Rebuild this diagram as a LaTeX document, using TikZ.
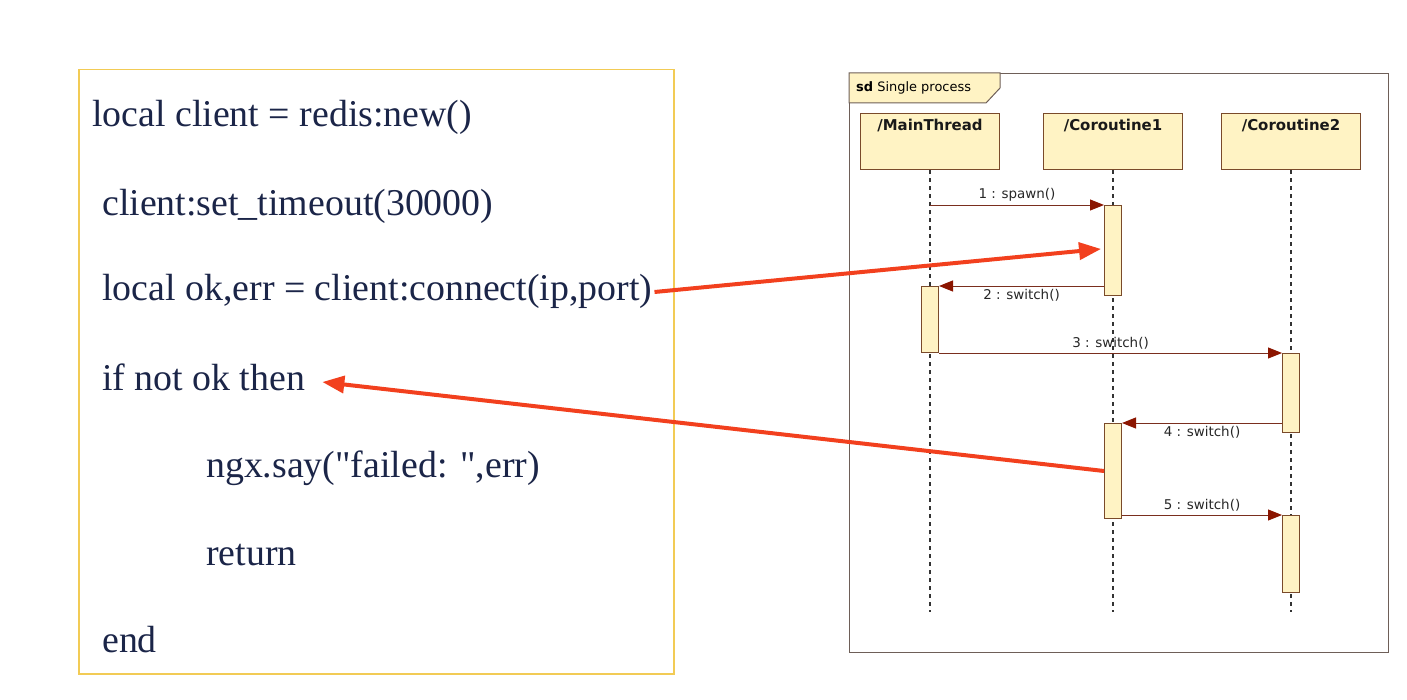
\documentclass[tikz,border=0pt]{standalone}
\usepackage{fontspec}
\setmainfont{Liberation Serif}[Ligatures=TeXOff]
\newfontfamily\umlfont{DejaVu Sans}
\usepackage{tikz}
\usetikzlibrary{arrows.meta, positioning, calc}
\definecolor{CodeInk}{HTML}{1B2548}
\definecolor{CodeFrame}{HTML}{F2CB55}
\definecolor{FrameLine}{HTML}{6E5F58}
\definecolor{UmlFill}{HTML}{FFF3C4}
\definecolor{UmlLine}{HTML}{7A4A2A}
\definecolor{MsgLine}{HTML}{7A2E1E}
\definecolor{MsgTip}{HTML}{8B1500}
\definecolor{HintRed}{HTML}{F2401E}

\begin{document}
\begin{tikzpicture}[
  x=1bp, y=-1bp,
  code/.style={anchor=base west, inner sep=0pt, text=CodeInk, font=\fontsize{38}{40}\selectfont},
  head/.style={draw=UmlLine, fill=UmlFill, line width=1bp, minimum width=139bp, minimum height=56bp, anchor=north},
  headtext/.style={anchor=north, inner sep=6bp, text=black!90, font=\umlfont\bfseries\fontsize{15}{17}\selectfont},
  act/.style={draw=UmlLine, fill=UmlFill, line width=1bp, minimum width=17bp, inner sep=0pt, anchor=north},
  lifeline/.style={line width=1.3bp, dash pattern=on 4bp off 4bp, black!80},
  msg/.style={line width=1bp, MsgLine, -{Triangle[length=14bp, width=11bp, fill=MsgTip, color=MsgTip]}},
  msglabel/.style={font=\umlfont\fontsize{13.5}{15}\selectfont, text=black!85, inner sep=3bp},
  hint/.style={line width=4bp, HintRed, -{Triangle[length=22bp, width=17bp]}}
]
\useasboundingbox (0,0) rectangle (1407,700);

% --- Lua code panel ---
\node[draw=CodeFrame, line width=1.5bp, minimum width=595bp, minimum height=604bp, anchor=north west, inner sep=0pt] (codebox) at (78,69) {};
\node[code] (code1) at (92,127) {local client = redis:new()};
\node[code] (code2) at (102,215) {client:set\_timeout(30000)};
\node[code] (code3) at (102,300) {local ok,err = client:connect(ip,port)};
\node[code] (code4) at (102,390) {if not ok then};
\node[code] (code5) at (206,477) {ngx.say("failed: ",err)};
\node[code] (code6) at (206,565) {return};
\node[code] (code7) at (102,652) {end};

% --- Sequence diagram frame ---
\node[draw=FrameLine, line width=1.3bp, minimum width=539bp, minimum height=579bp, anchor=north west, inner sep=0pt] (frame) at (849,73) {};
\draw[draw=FrameLine, fill=UmlFill, line width=1bp] (frame.north west) -- ++(151,0) -- ++(0,15) -- ++(-14,15) -- ++(-137,0) -- cycle;
\node[anchor=west, inner sep=0pt, font=\umlfont\fontsize{13}{15}\selectfont] (sdtitle) at (856,88) {\textbf{sd} Single process};

% Lifeline heads
\node[head, label={[headtext]north:/MainThread}] (mthead) at (930,113) {};
\node[head, label={[headtext]north:/Coroutine1}] (c1head) at (1113,113) {};
\node[head, label={[headtext]north:/Coroutine2}] (c2head) at (1291,113) {};

% Lifelines
\coordinate (mtend) at (930,612);
\coordinate (c1end) at (1113,612);
\coordinate (c2end) at (1291,612);
\draw[lifeline] (mthead.south) -- (mtend);
\draw[lifeline] (c1head.south) -- (c1end);
\draw[lifeline] (c2head.south) -- (c2end);

% Activations
\node[act, minimum height=90bp] (c1a) at (1113,205) {};
\node[act, minimum height=66bp] (mta) at (930,286) {};
\node[act, minimum height=79bp] (c2a) at (1291,353) {};
\node[act, minimum height=95bp] (c1b) at (1113,423) {};
\node[act, minimum height=77bp] (c2b) at (1291,515) {};

% Messages
\draw[msg] (mthead |- c1a.north west) -- (c1a.north west) node[msglabel, midway, above] {1 : spawn()};
\draw[msg] (c1a.west |- mta.north east) -- (mta.north east) node[msglabel, midway, below] {2 : switch()};
\draw[msg] (mta.east |- c2a.north west) -- (c2a.north west) node[msglabel, midway, above] {3 : switch()};
\draw[msg] (c2a.west |- c1b.north east) -- (c1b.north east) node[msglabel, midway, below] {4 : switch()};
\draw[msg] (c1b.east |- c2b.north west) -- (c2b.north west) node[msglabel, midway, above] {5 : switch()};

% Red hints from code to diagram
\draw[hint, shorten >=3bp] ($(code3.base east)+(2,-8)$) -- ($(c1a.north west)!0.48!(c1a.south west)$);
\draw[hint] (c1b.west) -- ($(code4.base east)+(17,-8)$);

\end{tikzpicture}
\end{document}
